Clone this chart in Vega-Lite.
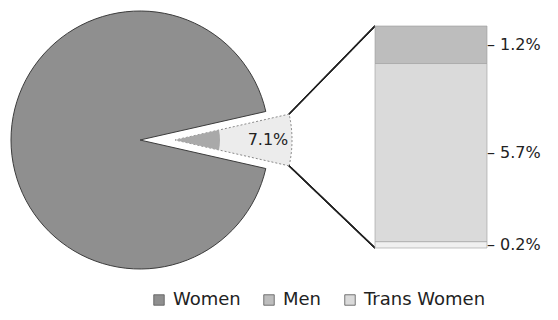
{
  "$schema": "https://vega.github.io/schema/vega-lite/v6.json",
  "width": 558,
  "height": 320,
  "padding": 0,
  "autosize": {"type": "none"},
  "background": "white",
  "config": {"view": {"stroke": null}, "font": "DejaVu Sans"},
  "data": {
    "values": [
      {"group": "Women", "share": 0.929},
      {"group": "Men", "share": 0.012},
      {"group": "Trans Women", "share": 0.057},
      {"group": "Unknown", "share": 0.002}
    ]
  },
  "resolve": {"scale": {"theta": "independent"}},
  "layer": [
    {
      "transform": [{"filter": "datum.group === 'Women'"}],
      "mark": {"type": "arc", "outerRadius": 129, "stroke": "#3c3c3c", "strokeWidth": 1},
      "encoding": {
        "theta": {"field": "share", "type": "quantitative", "scale": {"domain": [0, 1], "range": [1.7938, 8.077]}},
        "x": {"datum": 140, "type": "quantitative", "scale": {"domain": [0, 558], "nice": false, "zero": false, "padding": 0}, "axis": null},
        "y": {"datum": 0.03454, "type": "quantitative", "scale": {"domain": [0, 0.071], "range": [248, 26], "nice": false, "zero": false}, "axis": null},
        "color": {
          "field": "group", "type": "nominal",
          "scale": {"domain": ["Women", "Men", "Trans Women", "Unknown"], "range": ["#8f8f8f", "#bdbdbd", "#dadada", "#f0f0f0"]},
          "legend": {"values": ["Women", "Men", "Trans Women"], "orient": "none", "legendX": 150, "legendY": 291, "direction": "horizontal", "title": null, "symbolType": "square", "symbolSize": 110, "symbolStrokeColor": "#555555", "symbolStrokeWidth": 0.8, "labelFontSize": 18, "labelFont": "DejaVu Sans", "labelColor": "#222222", "columnPadding": 19, "labelOffset": 5}
        }
      }
    },
    {
      "transform": [{"filter": "datum.group !== 'Women'"}, {"aggregate": [{"op": "sum", "field": "share", "as": "other"}]}],
      "mark": {"type": "arc", "outerRadius": 117, "fill": "#ececec", "stroke": "#8a8a8a", "strokeWidth": 1, "strokeDash": [2, 2]},
      "encoding": {
        "theta": {"field": "other", "type": "quantitative", "scale": {"domain": [0, 1], "range": [1.3478, 7.631]}},
        "x": {"datum": 175, "type": "quantitative"},
        "y": {"datum": 0.03454, "type": "quantitative"}
      }
    },
    {
      "transform": [{"filter": "datum.group !== 'Women'"}, {"aggregate": [{"op": "sum", "field": "share", "as": "other"}]}],
      "mark": {"type": "arc", "outerRadius": 45, "fill": "#a9a9a9"},
      "encoding": {
        "theta": {"field": "other", "type": "quantitative", "scale": {"domain": [0, 1], "range": [1.3478, 7.631]}},
        "x": {"datum": 175, "type": "quantitative"},
        "y": {"datum": 0.03454, "type": "quantitative"}
      }
    },
    {
      "transform": [{"filter": "datum.group !== 'Women'"}, {"aggregate": [{"op": "sum", "field": "share", "as": "other"}]}],
      "mark": {"type": "text", "fontSize": 16, "font": "DejaVu Sans", "color": "#222222", "align": "center", "baseline": "middle"},
      "encoding": {
        "text": {"field": "other", "type": "quantitative", "format": ".1%"},
        "x": {"datum": 268, "type": "quantitative"},
        "y": {"datum": 0.03454, "type": "quantitative"}
      }
    },
    {
      "mark": {"type": "rule", "color": "#222222", "strokeWidth": 1.2},
      "encoding": {
        "x": {"datum": 289, "type": "quantitative"},
        "y": {"datum": 0.0428, "type": "quantitative"},
        "x2": {"datum": 375},
        "y2": {"datum": 0.071}
      }
    },
    {
      "mark": {"type": "rule", "color": "#222222", "strokeWidth": 1.2},
      "encoding": {
        "x": {"datum": 289, "type": "quantitative"},
        "y": {"datum": 0.0263, "type": "quantitative"},
        "x2": {"datum": 375},
        "y2": {"datum": 0}
      }
    },
    {
      "transform": [{"filter": "datum.group !== 'Women'"}],
      "mark": {"type": "bar", "orient": "vertical", "stroke": "#9a9a9a", "strokeWidth": 0.6},
      "encoding": {
        "x": {"datum": 375, "type": "quantitative"},
        "x2": {"datum": 487},
        "y": {"field": "share", "type": "quantitative", "stack": "zero"},
        "order": {"field": "group", "sort": "descending"},
        "color": {
          "field": "group", "type": "nominal",
          "scale": {"domain": ["Women", "Men", "Trans Women", "Unknown"], "range": ["#8f8f8f", "#bdbdbd", "#dadada", "#f0f0f0"]},
          "legend": {"values": ["Women", "Men", "Trans Women"], "orient": "none", "legendX": 150, "legendY": 291, "direction": "horizontal", "title": null, "symbolType": "square", "symbolSize": 110, "symbolStrokeColor": "#555555", "symbolStrokeWidth": 0.8, "labelFontSize": 18, "labelFont": "DejaVu Sans", "labelColor": "#222222", "columnPadding": 19, "labelOffset": 5}
        }
      }
    },
    {
      "transform": [{"filter": "datum.group !== 'Women'"}],
      "mark": {"type": "text", "fontSize": 16, "font": "DejaVu Sans", "color": "#222222", "align": "center", "baseline": "middle"},
      "encoding": {
        "text": {"value": "–"},
        "x": {"datum": 491, "type": "quantitative"},
        "y": {"field": "share", "type": "quantitative", "stack": "zero", "bandPosition": 0.5},
        "order": {"field": "group", "sort": "descending"}
      }
    },
    {
      "transform": [{"filter": "datum.group !== 'Women'"}],
      "mark": {"type": "text", "fontSize": 16, "font": "DejaVu Sans", "color": "#222222", "align": "left", "baseline": "middle"},
      "encoding": {
        "text": {"field": "share", "type": "quantitative", "format": ".1%"},
        "x": {"datum": 500, "type": "quantitative"},
        "y": {"field": "share", "type": "quantitative", "stack": "zero", "bandPosition": 0.5},
        "order": {"field": "group", "sort": "descending"}
      }
    }
  ]
}
